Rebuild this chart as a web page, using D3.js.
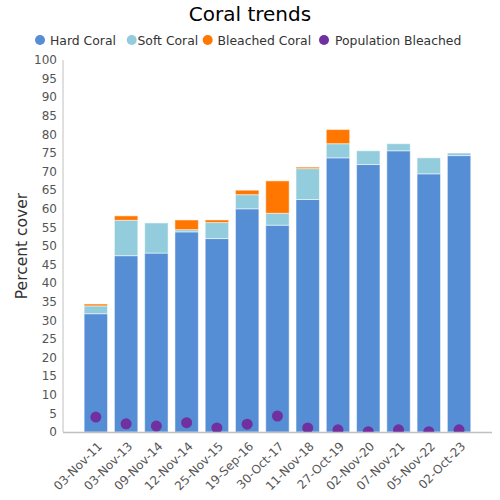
<!DOCTYPE html>
<html>
<head>
<meta charset="utf-8">
<script src="https://cdn.jsdelivr.net/npm/d3@7"></script>
<style>
  body { margin: 0; background: #fff; }
  svg { font-family: "DejaVu Sans", sans-serif; }
</style>
</head>
<body>
<svg id="chart" width="500" height="500"></svg>
<script>
const categories = ["03-Nov-11","03-Nov-13","09-Nov-14","12-Nov-14","25-Nov-15","19-Sep-16","30-Oct-17","11-Nov-18","27-Oct-19","02-Nov-20","07-Nov-21","05-Nov-22","02-Oct-23"];
const hardCoral     = [31.8, 47.4, 48.1, 53.8, 52.0, 60.0, 55.6, 62.5, 73.7, 71.9, 75.6, 69.4, 74.3];
const softCoral     = [2.1, 9.5, 8.1, 0.6, 4.3, 3.8, 3.2, 8.3, 3.8, 3.7, 1.9, 4.3, 0.7];
const bleachedCoral = [0.5, 1.2, 0, 2.6, 0.7, 1.2, 8.7, 0.4, 3.8, 0, 0, 0, 0];
const popBleached   = [4.0, 2.2, 1.6, 2.5, 1.1, 2.1, 4.3, 1.1, 0.6, 0.1, 0.6, 0.1, 0.6];
const yTicks = d3.range(0, 101, 5);
const seriesNames = ["Hard Coral","Soft Coral","Bleached Coral","Population Bleached"];
const seriesColors = ["#558ed5","#93cddd","#ff7700","#7030a0"];

const svg = d3.select("#chart");
const plotTop = 60, plotBottom = 432, axisLeft = 63, axisRight = 492;

const x = d3.scaleBand().domain(categories).range([80.7, 474.2]).paddingInner(0.227).paddingOuter(0.1135);
const y = d3.scaleLinear().domain([0, 100]).range([plotBottom, plotTop]);

// Title
svg.append("text").attr("x", 250).attr("y", 21).attr("text-anchor", "middle")
  .attr("font-size", 20).attr("fill", "#000").text("Coral trends");

// Legend
const legX = [40, 131.7, 207.7, 324];
const legTX = [50, 137.5, 217.5, 335];
seriesNames.forEach((n, i) => {
  svg.append("circle").attr("cx", legX[i]).attr("cy", 40).attr("r", 5).attr("fill", seriesColors[i]);
  svg.append("text").attr("x", legTX[i]).attr("y", 44.5).attr("font-size", 12.4).attr("fill", "#333").text(n);
});

// Stacked data
const rows = categories.map((c, i) => ({cat: c, hard: hardCoral[i], soft: softCoral[i], bleached: bleachedCoral[i]}));
const stack = d3.stack().keys(["hard","soft","bleached"])(rows);

svg.append("defs").append("clipPath").attr("id", "plotclip")
  .append("rect").attr("x", axisLeft).attr("y", plotTop - 10).attr("width", axisRight - axisLeft).attr("height", plotBottom - plotTop + 10);

const g = svg.append("g").attr("clip-path", "url(#plotclip)");
stack.forEach((layer, li) => {
  g.selectAll(null).data(layer).join("rect")
    .attr("x", d => x(d.data.cat))
    .attr("width", x.bandwidth())
    .attr("y", d => y(d[1]))
    .attr("height", d => y(d[0]) - y(d[1]))
    .attr("fill", seriesColors[li])
    .attr("stroke", "#fff").attr("stroke-opacity", 0.5).attr("stroke-width", 1);
});

g.selectAll(null).data(popBleached).join("circle")
  .attr("cx", (d, i) => x(categories[i]) + x.bandwidth() / 2)
  .attr("cy", d => y(d))
  .attr("r", 5.5)
  .attr("fill", seriesColors[3]);

// Axes
svg.append("line").attr("x1", axisLeft).attr("x2", axisLeft).attr("y1", plotTop).attr("y2", plotBottom)
  .attr("stroke", "#c0c0c0").attr("stroke-width", 1);
svg.append("line").attr("x1", axisLeft).attr("x2", axisRight).attr("y1", plotBottom + 0.5).attr("y2", plotBottom + 0.5)
  .attr("stroke", "#c0c0c0").attr("stroke-width", 1.5);

svg.selectAll(".ytick").data(yTicks).join("text")
  .attr("x", 57).attr("y", d => y(d)).attr("dy", "0.35em")
  .attr("text-anchor", "end").attr("font-size", 12).attr("fill", "#555")
  .text(d => d);

svg.selectAll(".xtick").data(categories).join("text")
  .attr("transform", d => `translate(${x(d) + x.bandwidth() / 2 + 7},${plotBottom + 15}) rotate(-45)`)
  .attr("text-anchor", "end").attr("font-size", 12).attr("fill", "#555")
  .text(d => d);

svg.append("text").attr("transform", `translate(27,246) rotate(-90)`)
  .attr("text-anchor", "middle").attr("font-size", 15.5).attr("fill", "#333")
  .text("Percent cover");
</script>
</body>
</html>
